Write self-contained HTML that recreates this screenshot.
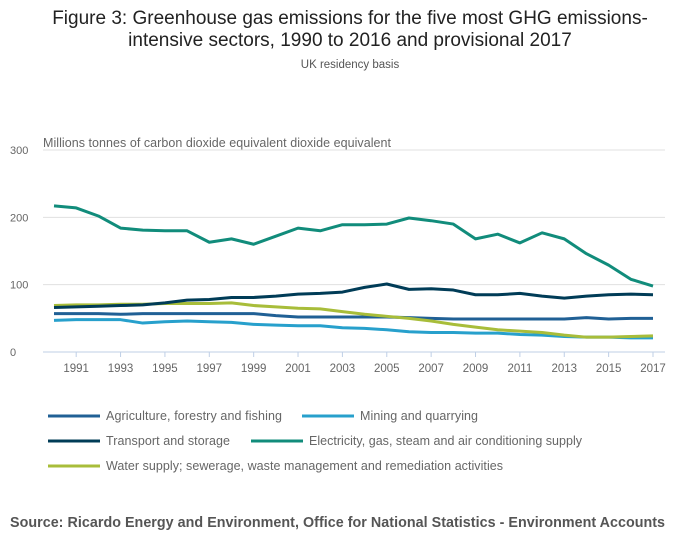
<!DOCTYPE html>
<html><head><meta charset="utf-8"><style>
body{margin:0;width:700px;height:549px;background:#fff;font-family:"Liberation Sans",sans-serif;overflow:hidden}
</style></head><body>
<svg width="700" height="549" id="c">
<text x="350" y="24" text-anchor="middle" font-size="19" fill="#222">Figure 3: Greenhouse gas emissions for the five most GHG emissions-</text>
<text x="350" y="46" text-anchor="middle" font-size="19" fill="#222">intensive sectors, 1990 to 2016 and provisional 2017</text>
<text x="350" y="68" text-anchor="middle" font-size="11.5" fill="#555">UK residency basis</text>
<text x="43" y="147" font-size="12.5" fill="#666" textLength="348">Millions tonnes of carbon dioxide equivalent dioxide equivalent</text>
<text x="10" y="527" font-size="14.3" font-weight="bold" fill="#555" textLength="655">Source: Ricardo Energy and Environment, Office for National Statistics - Environment Accounts</text>
</svg>
<script>
const years=[1990,1991,1992,1993,1994,1995,1996,1997,1998,1999,2000,2001,2002,2003,2004,2005,2006,2007,2008,2009,2010,2011,2012,2013,2014,2015,2016,2017];
const yTicks=[0,100,200,300];
const xTicks=[1991,1993,1995,1997,1999,2001,2003,2005,2007,2009,2011,2013,2015,2017];
const agriculture=[57,57,57,56,57,57,57,57,57,57,54,52,52,52,52,52,51,50,49,49,49,49,49,49,51,49,50,50];
const mining=[47,48,48,48,43,45,46,45,44,41,40,39,39,36,35,33,30,29,29,28,28,26,25,23,22,22,21,21];
const transport=[66,67,68,69,70,73,77,78,81,81,83,86,87,89,96,101,93,94,92,85,85,87,83,80,83,85,86,85];
const electricity=[217,214,202,184,181,180,180,163,168,160,172,184,180,189,189,190,199,195,190,168,175,162,177,168,146,129,108,98];
const water=[69,70,70,71,71,72,72,72,73,69,67,65,64,60,56,53,50,46,41,37,33,31,29,25,22,22,23,24];
const seriesNames=["Agriculture, forestry and fishing","Mining and quarrying","Transport and storage","Electricity, gas, steam and air conditioning supply","Water supply; sewerage, waste management and remediation activities"];
const seriesData=[agriculture,mining,transport,electricity,water];
const colors=["#206095","#27a0cc","#003c57","#118c7b","#a8bd3a"];
const NS="http://www.w3.org/2000/svg";
const svg=document.getElementById('c');
const x=v=>54+(v-1990)*(653-54)/27;
const y=v=>352-v*(202/300);
function mk(t,a){const e=document.createElementNS(NS,t);for(const k in a)e.setAttribute(k,a[k]);svg.appendChild(e);return e;}
yTicks.forEach(t=>{
 const l=mk('line',{x1:43,x2:665,y1:y(t),y2:y(t),stroke:t===0?'#bfcfe6':'#e0e0e0','stroke-width':1});
 
 
 const tx=mk('text',{x:10,y:y(t)+4,'font-size':11,fill:'#666'});tx.textContent=t;
 
 
});
xTicks.forEach(t=>{
 const l=mk('line',{x1:x(t),x2:x(t),y1:352,y2:357,stroke:'#bfcfe6'});
 
 
 const tx=mk('text',{x:x(t),y:372,'font-size':11.5,fill:'#666','text-anchor':'middle'});tx.textContent=t;
 
 
});
const order=[0,1,4,2,3];
order.forEach(i=>{
 const p=mk('polyline',{points:seriesData[i].map((v,j)=>x(years[j])+','+y(v)).join(' '),fill:'none',stroke:colors[i],'stroke-width':3,'stroke-linejoin':'round'});
 
 
});
const legPos=[[48,416,176],[302,416,118],[48,441,124],[251,441,273],[48,466,397]];
seriesNames.forEach((n,i)=>{
 const [lx,ly,tw]=legPos[i];
 const l=mk('line',{x1:lx,x2:lx+52,y1:ly,y2:ly,stroke:colors[i],'stroke-width':3});
 
 
 const t=mk('text',{x:lx+58,y:ly+4,'font-size':12.5,fill:'#666',textLength:tw});t.textContent=n;
 
 
});
</script>
</body></html>
